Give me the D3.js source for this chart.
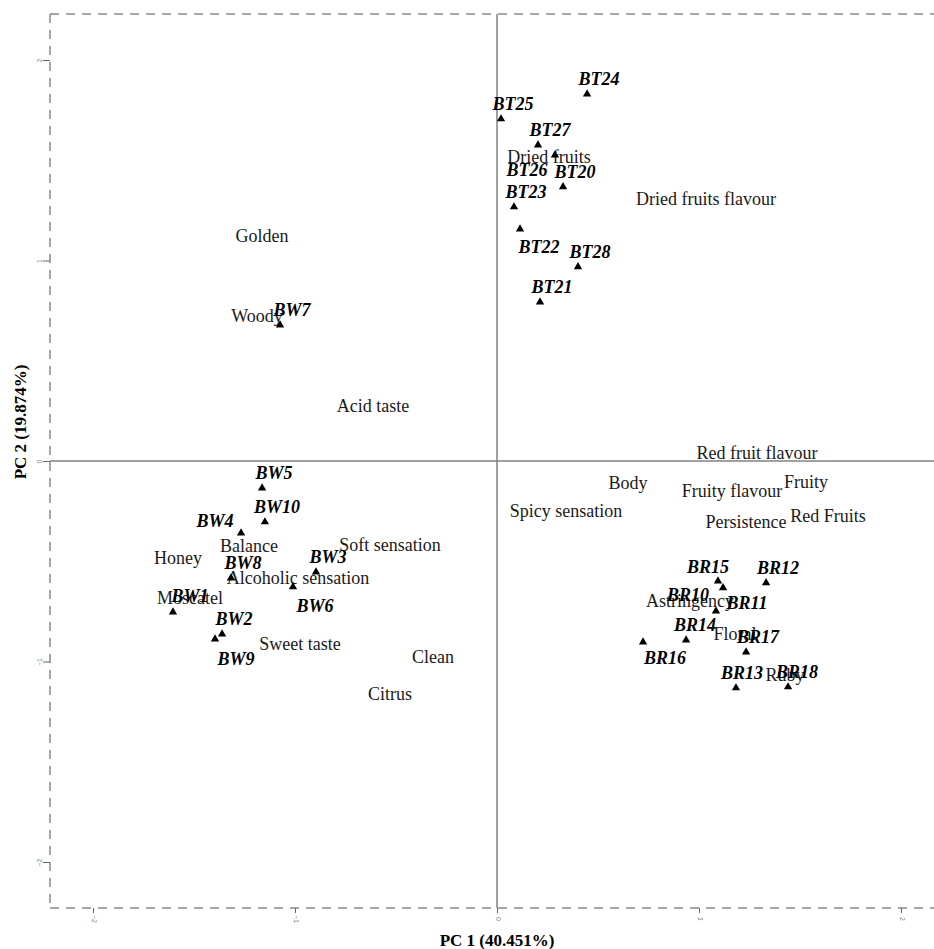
<!DOCTYPE html>
<html>
<head>
<meta charset="utf-8">
<script src="https://cdn.jsdelivr.net/npm/d3@7/dist/d3.min.js"></script>
<style>
  html, body { margin: 0; padding: 0; background: #fff; }
  svg { display: block; }
</style>
</head>
<body>
<svg id="chart" width="934" height="949"></svg>
<script>
// PCA biplot: wine samples (scores) and sensory attributes (loadings)
const sampleNames = [
  "BT24", "BT25", "BT27", "BT26", "BT20", "BT23", "BT22", "BT28", "BT21",
  "BW7", "BW5", "BW10", "BW4", "BW8", "BW3", "BW6", "BW1", "BW2", "BW9",
  "BR15", "BR11", "BR12", "BR10", "BR14", "BR16", "BR17", "BR13", "BR18"
];
const samplePC1 = [
  0.446, 0.020, 0.203, 0.287, 0.327, 0.084, 0.114, 0.401, 0.213,
  -1.074, -1.163, -1.149, -1.267, -1.317, -0.896, -1.010, -1.604, -1.361, -1.396,
  1.094, 1.119, 1.332, 1.084, 0.936, 0.723, 1.233, 1.183, 1.441
];
const samplePC2 = [
  1.830, 1.706, 1.576, 1.526, 1.367, 1.267, 1.157, 0.968, 0.793,
  0.678, -0.135, -0.304, -0.359, -0.584, -0.554, -0.628, -0.753, -0.863, -0.888,
  -0.599, -0.633, -0.608, -0.748, -0.893, -0.903, -0.953, -1.132, -1.127
];

const attributeNames = [
  "Golden", "Woody", "Acid taste", "Honey", "Balance", "Soft sensation",
  "Alcoholic sensation", "Moscatel", "Sweet taste", "Clean", "Citrus",
  "Dried fruits", "Dried fruits flavour", "Red fruit flavour", "Body",
  "Spicy sensation", "Fruity flavour", "Fruity", "Persistence", "Red Fruits",
  "Astringency", "Floral", "Ruby"
];
const attributePC1 = [
  -1.163, -1.188, -0.614, -1.579, -1.228, -0.530,
  -0.985, -1.520, -0.975, -0.317, -0.530,
  0.257, 1.035, 1.287, 0.649,
  0.342, 1.163, 1.530, 1.233, 1.639,
  0.955, 1.178, 1.426
];
const attributePC2 = [
  1.122, 0.723, 0.274, -0.484, -0.424, -0.419,
  -0.584, -0.683, -0.913, -0.978, -1.162,
  1.516, 1.307, 0.040, -0.110,
  -0.249, -0.150, -0.105, -0.304, -0.274,
  -0.698, -0.863, -1.067
];

const xTicks = [-2, -1, 0, 1, 2];
const yTicks = [-2, -1, 0, 1, 2];
const xTitle = "PC 1 (40.451%)";
const yTitle = "PC 2 (19.874%)";

// label placement (pixel offsets of the label centre from its marker)
const defaultLabelOffset = [12, -15];
const labelOffset = {
  BT22: [19, 18], BT26: [-28, 15],
  BW6: [22, 19], BW9: [21, 20], BW4: [-26, -12], BW1: [17, -16],
  BR15: [-10, -14], BR10: [-28, -16], BR11: [24, 15], BR16: [22, 16],
  BR13: [6, -15], BR18: [9, -15], BR14: [9, -15]
};

const svg = d3.select("#chart");
const plotLeft = 50, plotRight = 934, plotTop = 14, plotBottom = 908;

const x = d3.scaleLinear()
  .domain([(plotLeft - 497) / 202, (plotRight - 497) / 202])
  .range([plotLeft, plotRight]);
const y = d3.scaleLinear()
  .domain([(461 - plotBottom) / 200.5, (461 - plotTop) / 200.5])
  .range([plotBottom, plotTop]);

// dashed frame (top, left, bottom)
const frame = svg.append("g")
  .attr("fill", "none")
  .attr("stroke", "#a6a6a6")
  .attr("stroke-width", 2)
  .attr("stroke-dasharray", "9,7");
frame.append("line").attr("x1", plotLeft).attr("x2", plotRight).attr("y1", plotTop).attr("y2", plotTop);
frame.append("line").attr("x1", plotLeft).attr("x2", plotLeft).attr("y1", plotTop).attr("y2", plotBottom);
frame.append("line").attr("x1", plotLeft).attr("x2", plotRight).attr("y1", plotBottom).attr("y2", plotBottom);

// zero lines
svg.append("line")
  .attr("x1", plotLeft).attr("x2", plotRight)
  .attr("y1", y(0)).attr("y2", y(0))
  .attr("stroke", "#808080").attr("stroke-width", 1.5);
svg.append("line")
  .attr("x1", x(0)).attr("x2", x(0))
  .attr("y1", plotTop).attr("y2", plotBottom)
  .attr("stroke", "#808080").attr("stroke-width", 1.5);

// axes
const xAxis = svg.append("g")
  .attr("transform", `translate(0,${plotBottom})`)
  .call(d3.axisBottom(x).tickValues(xTicks).tickSize(5).tickFormat(d3.format("d")));
const yAxis = svg.append("g")
  .attr("transform", `translate(${plotLeft},0)`)
  .call(d3.axisLeft(y).tickValues(yTicks).tickSize(7).tickFormat(d3.format("d")));

[xAxis, yAxis].forEach(g => {
  g.select(".domain").remove();
  g.selectAll(".tick line").attr("stroke", "#666").attr("stroke-width", 1);
  g.selectAll(".tick text")
    .attr("fill", "#888")
    .attr("font-family", "Liberation Sans, Arial, sans-serif")
    .attr("font-size", 7);
});
xAxis.selectAll(".tick text")
  .attr("y", 0).attr("dy", 0)
  .attr("text-anchor", "middle")
  .attr("transform", "translate(0,11) rotate(90)")
  .attr("dominant-baseline", "middle");
yAxis.selectAll(".tick text")
  .attr("x", 0).attr("dy", 0)
  .attr("text-anchor", "middle")
  .attr("transform", "translate(-10,0) rotate(-90)")
  .attr("dominant-baseline", "middle");

// axis titles
svg.append("text")
  .attr("x", 497).attr("y", 946)
  .attr("text-anchor", "middle")
  .attr("font-family", "Liberation Serif, Times New Roman, serif")
  .attr("font-weight", "bold")
  .attr("font-size", 17)
  .text(xTitle);
svg.append("text")
  .attr("transform", "translate(26,422) rotate(-90)")
  .attr("text-anchor", "middle")
  .attr("font-family", "Liberation Serif, Times New Roman, serif")
  .attr("font-weight", "bold")
  .attr("font-size", 17)
  .text(yTitle);

// attribute labels
svg.append("g")
  .selectAll("text")
  .data(attributeNames.map((n, i) => ({ n, a: attributePC1[i], b: attributePC2[i] })))
  .join("text")
  .attr("x", d => x(d.a))
  .attr("y", d => y(d.b) + 6)
  .attr("text-anchor", "middle")
  .attr("font-family", "Liberation Serif, Times New Roman, serif")
  .attr("font-size", 18)
  .attr("fill", "#1a1a1a")
  .text(d => d.n);

// sample markers and labels
const samples = sampleNames.map((n, i) => ({ n, a: samplePC1[i], b: samplePC2[i] }));
const tri = d3.symbol().type(d3.symbolTriangle).size(30);

svg.append("g")
  .selectAll("path")
  .data(samples)
  .join("path")
  .attr("d", tri)
  .attr("transform", d => `translate(${x(d.a)},${y(d.b)})`)
  .attr("fill", "#000");

svg.append("g")
  .selectAll("text")
  .data(samples)
  .join("text")
  .attr("x", d => x(d.a) + (labelOffset[d.n] || defaultLabelOffset)[0])
  .attr("y", d => y(d.b) + (labelOffset[d.n] || defaultLabelOffset)[1] + 6)
  .attr("text-anchor", "middle")
  .attr("font-family", "Liberation Serif, Times New Roman, serif")
  .attr("font-weight", "bold")
  .attr("font-style", "italic")
  .attr("font-size", 18)
  .attr("fill", "#000")
  .text(d => d.n);
</script>
</body>
</html>
